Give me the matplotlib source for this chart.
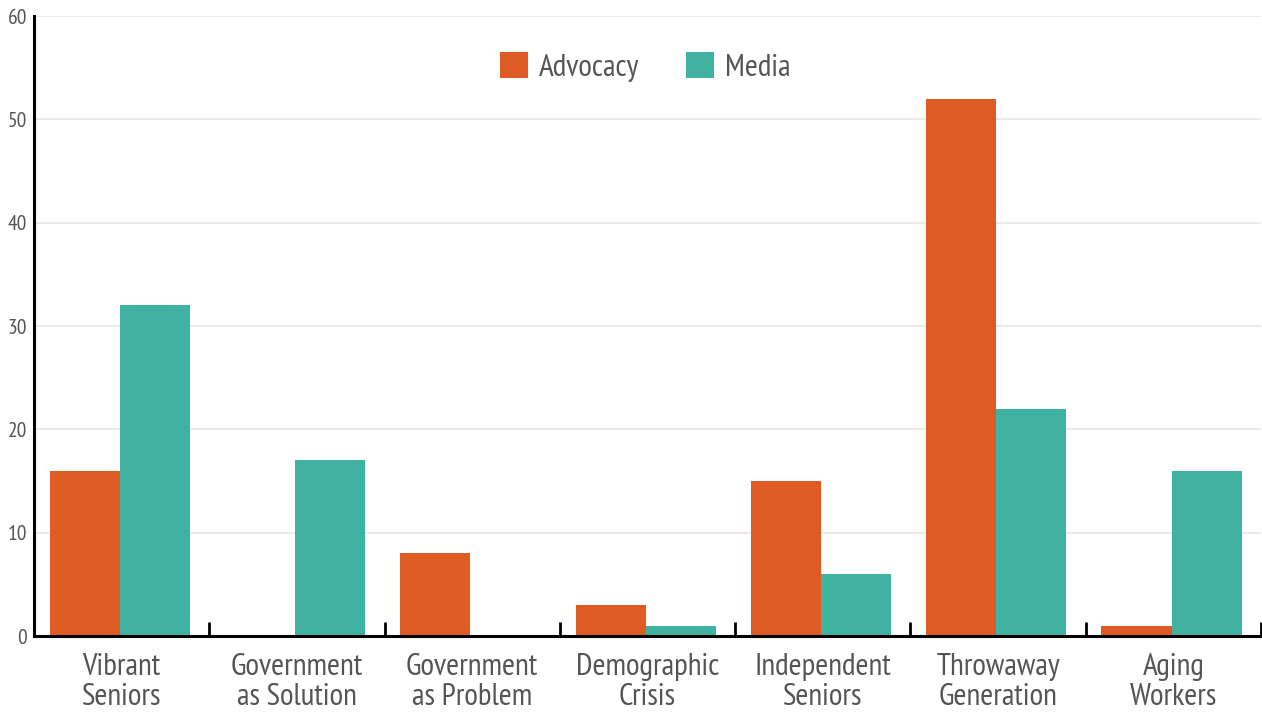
import matplotlib
matplotlib.use("Agg")
import matplotlib.pyplot as plt
import numpy as np
from matplotlib import font_manager

categories = ["Vibrant\nSeniors", "Government\nas Solution", "Government\nas Problem",
              "Demographic\nCrisis", "Independent\nSeniors", "Throwaway\nGeneration",
              "Aging\nWorkers"]
advocacy = [16, 0, 8, 3, 15, 52, 1]
media = [32, 17, 0, 1, 6, 22, 16]
series_names = ["Advocacy", "Media"]
yticks = [0, 10, 20, 30, 40, 50, 60]

names = {f.name for f in font_manager.fontManager.ttflist}
fam = "DejaVu Sans"
for cand in ["PT Sans Narrow", "Fira Sans Condensed", "Open Sans Condensed", "Roboto Condensed",
             "Asap Condensed", "Barlow Semi Condensed", "Archivo Narrow"]:
    if cand in names:
        fam = cand
        break
plt.rcParams['font.family'] = [fam, 'DejaVu Sans']

c_adv = "#DF5B26"
c_med = "#41B1A1"
txt = "#555555"

fig = plt.figure(figsize=(12.62, 7.17), dpi=100)
ax = fig.add_axes([34/1262, 81/717, 1227/1262, 620/717])

x = np.arange(len(categories))
w = 0.4
ax.bar(x - w/2 - 0.01, advocacy, w, color=c_adv, label=series_names[0], zorder=3)
ax.bar(x + w/2 - 0.01, media, w, color=c_med, label=series_names[1], zorder=3)

ax.set_xlim(-0.5, len(categories) - 0.5)
ax.set_ylim(0, 60)
ax.set_yticks(yticks)
ax.set_yticklabels([str(v) for v in yticks])
ax.yaxis.grid(True, color="#e6e6e6", lw=1.2, zorder=0)
ax.tick_params(axis='y', length=0, pad=5, labelsize=15.5, labelcolor=txt)

ax.set_xticks(x)
ax.set_xticklabels(categories, linespacing=1.1)
ax.tick_params(axis='x', which='major', length=0, pad=12, labelsize=22.5, labelcolor=txt)
ax.set_xticks(np.arange(len(categories)) + 0.5, minor=True)
ax.tick_params(axis='x', which='minor', direction='in', length=10, width=2, color='black')

for s in ['top', 'right']:
    ax.spines[s].set_visible(False)
for s in ['left', 'bottom']:
    ax.spines[s].set_color('black')
    ax.spines[s].set_linewidth(2.2)
    ax.spines[s].set_zorder(4)

leg = ax.legend(loc='center', bbox_to_anchor=(0.498, 0.918), ncol=2, frameon=False,
                fontsize=22.5, handlelength=0.9, handleheight=0.9, handletextpad=0.35,
                columnspacing=1.5)
for t in leg.get_texts():
    t.set_color(txt)

fig.savefig("out.png", dpi=100)
